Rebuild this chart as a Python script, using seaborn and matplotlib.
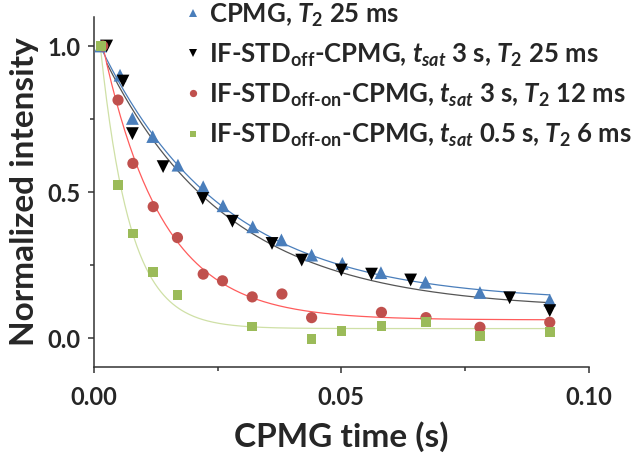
import numpy as np
import pandas as pd
import matplotlib
matplotlib.use("Agg")
import matplotlib.pyplot as plt
import seaborn as sns

# values
cpmg_t = [0.0014, 0.0053, 0.0078, 0.0119, 0.0170, 0.0221, 0.0261, 0.0321,
          0.0379, 0.0440, 0.0502, 0.0580, 0.0670, 0.0780, 0.0921]
cpmg_y = [1.00, 0.90, 0.752, 0.69, 0.592, 0.518, 0.453, 0.381,
          0.336, 0.284, 0.256, 0.224, 0.191, 0.156, 0.130]

off_t = [0.0026, 0.0059, 0.0078, 0.0140, 0.0220, 0.0280, 0.0360,
         0.0420, 0.0500, 0.0561, 0.0640, 0.0840, 0.0921]
off_y = [1.00, 0.88, 0.70, 0.587, 0.478, 0.40, 0.324,
         0.267, 0.233, 0.219, 0.199, 0.138, 0.094]

on3_t = [0.0018, 0.0049, 0.0079, 0.0120, 0.0169, 0.0221, 0.0260,
         0.0320, 0.0380, 0.0440, 0.0581, 0.0671, 0.0780, 0.0921]
on3_y = [1.00, 0.815, 0.598, 0.45, 0.344, 0.219, 0.196,
         0.141, 0.151, 0.070, 0.088, 0.070, 0.037, 0.054]

on05_t = [0.0014, 0.0049, 0.0079, 0.0120, 0.0169, 0.0320,
          0.0440, 0.0500, 0.0581, 0.0671, 0.0780, 0.0921]
on05_y = [1.00, 0.524, 0.358, 0.227, 0.147, 0.039,
          -0.003, 0.025, 0.042, 0.056, 0.007, 0.020]

labels = [
    r"CPMG, $T_2$ 25 ms",
    r"IF-STD$_{\text{off}}$-CPMG, $t_{sat}$ 3 s, $T_2$ 25 ms",
    r"IF-STD$_{\text{off-on}}$-CPMG, $t_{sat}$ 3 s, $T_2$ 12 ms",
    r"IF-STD$_{\text{off-on}}$-CPMG, $t_{sat}$ 0.5 s, $T_2$ 6 ms",
]
t2_values = [0.025, 0.025, 0.012, 0.006]

marker_colors = ["#4a7ebb", "#000000", "#c0504d", "#9bbb59"]
line_colors = ["#4a7ebb", "#555555", "#ff5c5c", "#cfe0a6"]
marker_shapes = ["^", "v", "o", "s"]
marker_areas = [85, 85, 65, 48]

series = [(cpmg_t, cpmg_y), (off_t, off_y), (on3_t, on3_y), (on05_t, on05_y)]

points = pd.concat(
    [pd.DataFrame({"t": t, "y": y, "series": lab}) for (t, y), lab in zip(series, labels)],
    ignore_index=True,
)

# mono-exponential fit with the T2 given in the legend (amplitude + offset by least squares)
fits = []
for (t, y), lab, t2 in zip(series, labels, t2_values):
    t = np.asarray(t)
    basis = np.column_stack([np.exp(-t / t2), np.ones_like(t)])
    (amp, off), *_ = np.linalg.lstsq(basis, np.asarray(y), rcond=None)
    grid = np.linspace(t.min(), t.max(), 300)
    fits.append(pd.DataFrame({"t": grid, "y": amp * np.exp(-grid / t2) + off, "series": lab}))
fits = pd.concat(fits, ignore_index=True)

sns.set_style("ticks")
plt.rcParams["font.family"] = ["Lato", "DejaVu Sans"]
plt.rcParams["font.weight"] = "bold"
plt.rcParams["mathtext.fontset"] = "custom"
plt.rcParams["mathtext.rm"] = "Lato:bold"
plt.rcParams["mathtext.bf"] = "Lato:bold"
plt.rcParams["mathtext.it"] = "Lato:bold:italic"

fig = plt.figure(figsize=(6.38, 4.54), dpi=100)
ax = fig.add_axes([0.147, 0.191, 0.776, 0.772])

sns.lineplot(data=fits, x="t", y="y", hue="series", hue_order=labels,
             palette=dict(zip(labels, line_colors)), linewidth=0.9,
             legend=False, ax=ax, zorder=2)
sns.scatterplot(data=points, x="t", y="y", hue="series", style="series", size="series",
                hue_order=labels, style_order=labels, size_order=labels,
                palette=dict(zip(labels, marker_colors)),
                markers=dict(zip(labels, marker_shapes)),
                sizes=dict(zip(labels, marker_areas)),
                linewidth=0, ax=ax, zorder=3)

ax.set_xlim(0, 0.10)
ax.set_ylim(-0.1, 1.1)
ax.set_xticks([0.0, 0.05, 0.10])
ax.set_xticklabels(["0.00", "0.05", "0.10"])
ax.set_xticks([0.025, 0.075], minor=True)
ax.set_yticks([0.0, 0.5, 1.0])
ax.set_yticklabels(["0.0", "0.5", "1.0"])
ax.set_yticks([0.25, 0.75], minor=True)
ax.tick_params(which="major", length=4.5, width=1.1, color="#333333",
               labelsize=17, pad=5)
ax.tick_params(axis="x", which="major", pad=9)
ax.tick_params(which="minor", length=3, width=1.1, color="#333333")
for side in ["left", "bottom"]:
    ax.spines[side].set_linewidth(1.1)
    ax.spines[side].set_color("#333333")
sns.despine(ax=ax)

ax.set_xlabel("CPMG time (s)", fontsize=24, fontweight="bold", labelpad=9)
ax.set_ylabel("Normalized intensity", fontsize=24, fontweight="bold", labelpad=6)

handles, _ = ax.get_legend_handles_labels()
ax.legend(handles[:4], labels, loc="upper left", bbox_to_anchor=(0.29, 0.997),
          bbox_transform=fig.transFigure, frameon=False, fontsize=18.5,
          handlelength=0.6, handletextpad=0.35, labelspacing=0.5,
          markerscale=0.65, borderaxespad=0, borderpad=0)

fig.savefig("out.png", dpi=100)
